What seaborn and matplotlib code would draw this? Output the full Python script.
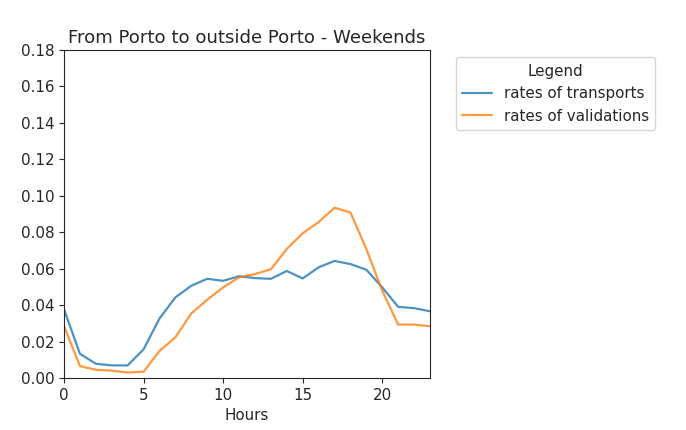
import pandas as pd
import matplotlib.pyplot as plt
import seaborn as sns

# hourly rates
hours = list(range(24))
transports = [0.0377, 0.0133, 0.0078, 0.0069, 0.0069, 0.0157, 0.0326, 0.0442,
              0.0506, 0.0544, 0.0533, 0.0558, 0.0548, 0.0544, 0.0587, 0.0546,
              0.0607, 0.0642, 0.0625, 0.0594, 0.0497, 0.0390, 0.0383, 0.0366]
validations = [0.0285, 0.0065, 0.0045, 0.0040, 0.0030, 0.0034, 0.0148, 0.0223,
               0.0354, 0.0429, 0.0497, 0.0552, 0.0570, 0.0596, 0.0708, 0.0794,
               0.0855, 0.0934, 0.0908, 0.0708, 0.0478, 0.0293, 0.0293, 0.0284]
series_names = ['rates of transports', 'rates of validations']

df = pd.DataFrame({
    'Hours': hours * 2,
    'rate': transports + validations,
    'series': [series_names[0]] * 24 + [series_names[1]] * 24,
})

sns.set_style('ticks')
plt.rcParams['font.family'] = ['DejaVu Sans']
plt.rcParams['font.size'] = 10.9
plt.rcParams['xtick.labelsize'] = 10.9
plt.rcParams['ytick.labelsize'] = 10.9
plt.rcParams['axes.labelsize'] = 10.9
plt.rcParams['legend.fontsize'] = 10.9
plt.rcParams['legend.title_fontsize'] = 10.9
plt.rcParams['axes.titlesize'] = 13.1

fig = plt.figure(figsize=(6.86, 4.30), dpi=100)
ax = fig.add_axes([0.0933, 0.121, 0.5335, 0.763])

sns.lineplot(data=df, x='Hours', y='rate', hue='series',
             palette=['#1f77b4', '#ff7f0e'], alpha=0.8, linewidth=1.6, ax=ax)

ax.set_xlim(0, 23)
ax.set_ylim(0, 0.18)
ax.set_xticks([0, 5, 10, 15, 20])
ax.set_yticks([i * 0.02 for i in range(10)])
ax.set_yticklabels([f'{i * 0.02:.2f}' for i in range(10)])
ax.set_xlabel('Hours')
ax.set_ylabel('')
ax.set_title('From Porto to outside Porto - Weekends', pad=5)
ax.legend(title='Legend', bbox_to_anchor=(1.05, 1), loc='upper left')

fig.savefig('out.png', dpi=100)
